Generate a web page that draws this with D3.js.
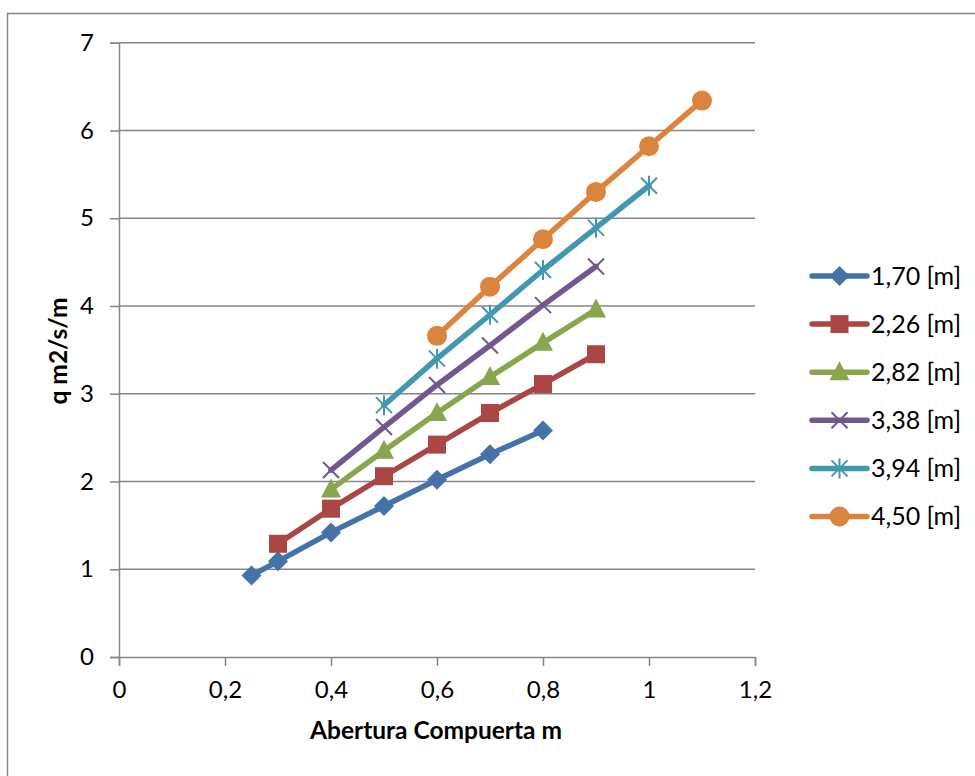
<!DOCTYPE html>
<html>
<head>
<meta charset="utf-8">
<script src="https://cdn.jsdelivr.net/npm/d3@7"></script>
<style>
  body { margin: 0; background: #fff; }
  svg { display: block; font-family: Lato, "Open Sans", sans-serif; }
</style>
</head>
<body>
<svg id="chart" width="975" height="776"></svg>
<script>
// data
const seriesNames = ["1,70 [m]", "2,26 [m]", "2,82 [m]", "3,38 [m]", "3,94 [m]", "4,50 [m]"];
const colors = ["#4572A7", "#AA4643", "#89A54E", "#71588F", "#4198AF", "#DB843D"];
const markers = ["diamond", "square", "triangle", "cross", "star", "circle"];

const abertura170 = [0.25, 0.3, 0.4, 0.5, 0.6, 0.7, 0.8];
const q170 = [0.93, 1.09, 1.42, 1.72, 2.02, 2.31, 2.58];
const abertura226 = [0.3, 0.4, 0.5, 0.6, 0.7, 0.8, 0.9];
const q226 = [1.29, 1.69, 2.06, 2.42, 2.78, 3.11, 3.45];
const abertura282 = [0.4, 0.5, 0.6, 0.7, 0.8, 0.9];
const q282 = [1.91, 2.35, 2.78, 3.19, 3.58, 3.96];
const abertura338 = [0.4, 0.5, 0.6, 0.7, 0.8, 0.9];
const q338 = [2.13, 2.62, 3.10, 3.55, 4.01, 4.45];
const abertura394 = [0.5, 0.6, 0.7, 0.8, 0.9, 1.0];
const q394 = [2.87, 3.40, 3.90, 4.41, 4.89, 5.37];
const abertura450 = [0.6, 0.7, 0.8, 0.9, 1.0, 1.1];
const q450 = [3.66, 4.22, 4.76, 5.30, 5.82, 6.34];

const xTicks = [0, 0.2, 0.4, 0.6, 0.8, 1, 1.2];
const yTicks = [0, 1, 2, 3, 4, 5, 6, 7];

const allX = [abertura170, abertura226, abertura282, abertura338, abertura394, abertura450];
const allY = [q170, q226, q282, q338, q394, q450];
const series = seriesNames.map((name, i) => ({
    name, color: colors[i], marker: markers[i],
    points: allX[i].map((x, j) => ({ x, y: allY[i][j] }))
}));

//layout
const svg = d3.select("#chart");
const plotLeft = 119, plotRight = 755, plotTop = 42.7, plotBottom = 657;
const axisColor = "#868686";
const fmt = d => String(d).replace(".", ",");

// outer border (chart area frame)
svg.append("rect")
    .attr("x", 7.5).attr("y", 13.5)
    .attr("width", 1000).attr("height", 1000)
    .attr("fill", "none").attr("stroke", axisColor).attr("stroke-width", 1.5);

const x = d3.scaleLinear().domain([0, 1.2]).range([plotLeft, plotRight]);
const y = d3.scaleLinear().domain([0, 7]).range([plotBottom, plotTop]);

// gridlines
svg.append("g")
    .selectAll("line")
    .data(yTicks.filter(d => d > 0))
    .join("line")
    .attr("x1", plotLeft).attr("x2", plotRight)
    .attr("y1", d => y(d)).attr("y2", d => y(d))
    .attr("stroke", axisColor).attr("stroke-width", 1.5);

// axes
const yAxis = svg.append("g")
    .attr("transform", `translate(${plotLeft},0)`)
    .call(d3.axisLeft(y).tickValues(yTicks).tickSize(9).tickPadding(16).tickFormat(fmt));
const xAxis = svg.append("g")
    .attr("transform", `translate(0,${plotBottom})`)
    .call(d3.axisBottom(x).tickValues(xTicks).tickSize(9).tickPadding(15).tickFormat(fmt));

[xAxis, yAxis].forEach(g => {
    g.select(".domain").attr("stroke", axisColor).attr("stroke-width", 1.5);
    g.selectAll(".tick line").attr("stroke", axisColor).attr("stroke-width", 1.5);
    g.selectAll("text").attr("fill", "#000").style("font-size", "24px").style("font-family", "Lato, 'Open Sans', sans-serif");
});

// axis titles
svg.append("text")
    .attr("x", 436).attr("y", 739)
    .attr("text-anchor", "middle")
    .style("font-size", "24.5px").style("font-weight", "bold")
    .text("Abertura Compuerta m");
svg.append("text")
    .attr("transform", "translate(58,351) rotate(-90)")
    .attr("text-anchor", "middle")
    .attr("dy", "0.35em")
    .style("font-size", "24.5px").style("font-weight", "bold")
    .text("q m2/s/m");

// marker drawing
function drawMarker(g, type, color) {
    if (type === "diamond") {
        g.append("path").attr("d", "M0,-10L10,0L0,10L-10,0Z").attr("fill", color);
    } else if (type === "square") {
        g.append("rect").attr("x", -9).attr("y", -9).attr("width", 18).attr("height", 18).attr("fill", color);
    } else if (type === "triangle") {
        g.append("path").attr("d", "M0,-11L10,8L-10,8Z").attr("fill", color);
    } else if (type === "circle") {
        g.append("circle").attr("r", 10).attr("fill", color);
    } else if (type === "cross") {
        g.append("path").attr("d", "M-8,-8L8,8M-8,8L8,-8").attr("stroke", color).attr("stroke-width", 2);
    } else if (type === "star") {
        g.append("path").attr("d", "M-8,-8L8,8M-8,8L8,-8M0,-10L0,10").attr("stroke", color).attr("stroke-width", 2);
    }
}

const line = d3.line().x(d => x(d.x)).y(d => y(d.y));

series.forEach(s => {
    const g = svg.append("g");
    g.append("path")
        .datum(s.points)
        .attr("d", line)
        .attr("fill", "none")
        .attr("stroke", s.color)
        .attr("stroke-width", 5.5)
        .attr("stroke-linejoin", "round")
        .attr("stroke-linecap", "round");
    g.selectAll(".pt")
        .data(s.points)
        .join("g")
        .attr("class", "pt")
        .attr("transform", d => `translate(${x(d.x)},${y(d.y)})`)
        .each(function() { drawMarker(d3.select(this), s.marker, s.color); });
});

// legend
const legend = svg.append("g");
series.forEach((s, i) => {
    const ly = 276 + i * 48.1;
    const row = legend.append("g").attr("transform", `translate(0,${ly})`);
    row.append("line")
        .attr("x1", 812).attr("x2", 867)
        .attr("stroke", s.color).attr("stroke-width", 5.5)
        .attr("stroke-linecap", "round");
    const m = row.append("g").attr("transform", "translate(839.5,0)");
    drawMarker(m, s.marker, s.color);
    row.append("text")
        .attr("x", 871).attr("dy", "0.35em")
        .style("font-size", "25px")
        .text(s.name);
});
</script>
</body>
</html>
